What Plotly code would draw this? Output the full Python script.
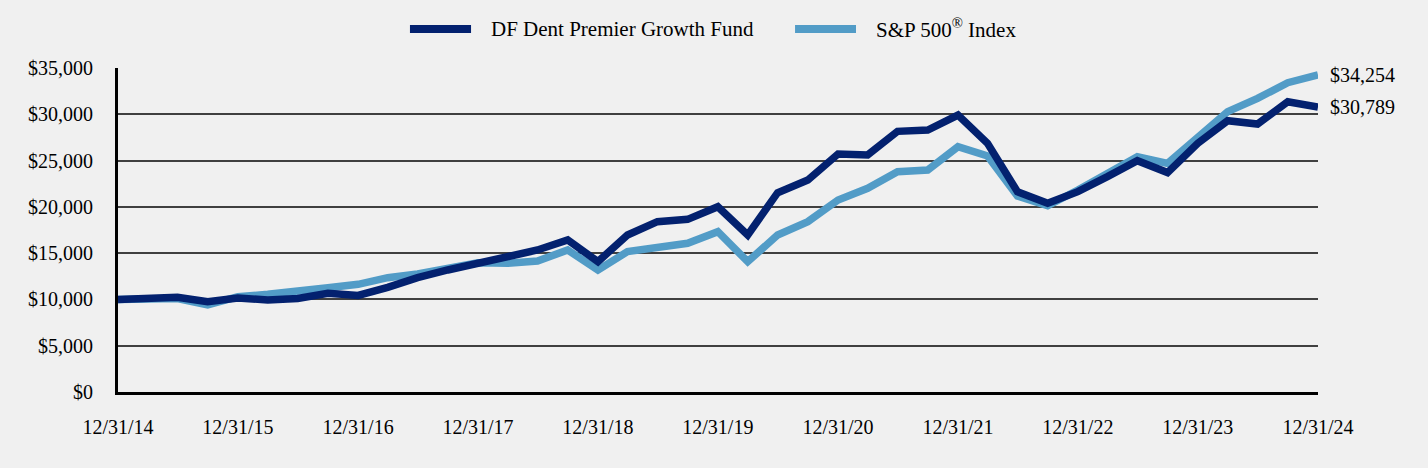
import plotly.graph_objects as go
import pandas as pd

quarters = pd.date_range("2014-12-31", "2024-12-31", freq="QE").strftime("%Y-%m-%d").tolist()

fund_values = [10000, 10030, 10230, 9760, 10150, 9950, 10100, 10660, 10430, 11300,
               12350, 13180, 13850, 14550, 15340, 16420, 14080, 16960, 18400, 18650,
               20020, 16960, 21530, 22900, 25710, 25600, 28160, 28300, 29920, 26860,
               21640, 20380, 21640, 23260, 24990, 23700, 26860, 29310, 28950, 31360,
               30789]
sp_values = [10000, 10050, 10100, 9400, 10300, 10550, 10830, 11270, 11630, 12350,
             12750, 13290, 13950, 13900, 14150, 15340, 13180, 15160, 15700, 16060,
             17320, 14080, 16960, 18400, 20740, 22000, 23800, 23980, 26500, 25490,
             21170, 20120, 21820, 23550, 25420, 24700, 27500, 30280, 31720, 33410,
             34254]

fund_name = "DF Dent Premier Growth Fund"
sp_name = "S&P 500<sup>®</sup> Index"
year_ticks = ["2014-12-31", "2015-12-31", "2016-12-31", "2017-12-31", "2018-12-31", "2019-12-31",
              "2020-12-31", "2021-12-31", "2022-12-31", "2023-12-31", "2024-12-31"]
year_labels = ["12/31/14", "12/31/15", "12/31/16", "12/31/17", "12/31/18", "12/31/19",
               "12/31/20", "12/31/21", "12/31/22", "12/31/23", "12/31/24"]
y_ticks = [0, 5000, 10000, 15000, 20000, 25000, 30000, 35000]
y_labels = ["$0", "$5,000", "$10,000", "$15,000", "$20,000", "$25,000", "$30,000", "$35,000"]

DARK = "#03216F"
LIGHT = "#529CC7"
FONT = "Liberation Serif"

fig = go.Figure()
fig.add_trace(go.Scatter(x=quarters, y=sp_values, mode="lines", name=sp_name, showlegend=False,
                         line=dict(color=LIGHT, width=7.5), hoverinfo="skip"))
fig.add_trace(go.Scatter(x=quarters, y=fund_values, mode="lines", name=fund_name, showlegend=False,
                         line=dict(color=DARK, width=7.5), hoverinfo="skip"))

for vals in (sp_values, fund_values):
    fig.add_annotation(x=quarters[-1], y=vals[-1], text="${:,}".format(vals[-1]),
                       xanchor="left", yanchor="middle", xshift=10, showarrow=False,
                       font=dict(family=FONT, size=20, color="#000000"))

# Legend drawn as swatches + text in paper coordinates
LEG_Y = 1.1204
legend_items = [(fund_name, DARK, 0.2433, 0.2942, 0.3092),
                (sp_name, LIGHT, 0.5642, 0.6150, 0.6300)]
for name, color, x0, x1, xt in legend_items:
    fig.add_shape(type="line", xref="paper", yref="paper", x0=x0, x1=x1, y0=LEG_Y, y1=LEG_Y,
                  line=dict(color=color, width=8))
    fig.add_annotation(xref="paper", yref="paper", x=xt, y=LEG_Y, text=name, showarrow=False,
                       xanchor="left", yanchor="middle",
                       font=dict(family=FONT, size=21, color="#000000"))

fig.update_layout(
    width=1428, height=468,
    margin=dict(l=118, r=110, t=68, b=76),
    paper_bgcolor="#F0F0F0", plot_bgcolor="#F0F0F0",
    font=dict(family=FONT, size=20, color="#000000"),
    showlegend=False,
    xaxis=dict(range=[quarters[0], quarters[-1]], tickvals=year_ticks, ticktext=year_labels,
               showgrid=False, zeroline=False, showline=True, linecolor="#000000", linewidth=3,
               ticks="", ticklabelstandoff=15, tickfont=dict(family=FONT, size=20)),
    yaxis=dict(range=[0, 35000], tickvals=y_ticks, ticktext=y_labels,
               showgrid=True, gridcolor="#404040", gridwidth=2, zeroline=False,
               showline=True, linecolor="#000000", linewidth=3,
               ticks="", ticklabelstandoff=18, tickfont=dict(family=FONT, size=20)),
)

fig.write_html("out.html")
